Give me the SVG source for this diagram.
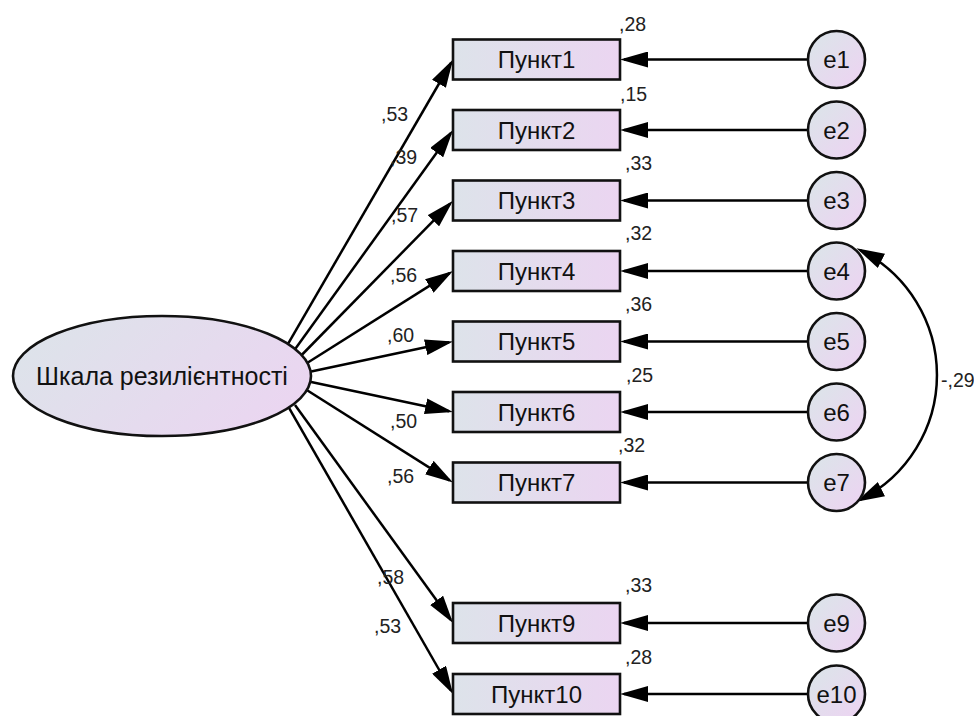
<svg xmlns="http://www.w3.org/2000/svg" width="974" height="716" viewBox="0 0 974 716">
<defs>
<linearGradient id="gBox" x1="0" y1="0" x2="1" y2="0">
<stop offset="0" stop-color="#dde3ea"/>
<stop offset="1" stop-color="#ebd5f1"/>
</linearGradient>
<linearGradient id="gEll" x1="0" y1="0.3" x2="1" y2="0.7">
<stop offset="0" stop-color="#dde3ea"/>
<stop offset="1" stop-color="#ebd5f1"/>
</linearGradient>
<linearGradient id="gCir" x1="0.15" y1="0.15" x2="0.85" y2="0.85">
<stop offset="0" stop-color="#dde3ea"/>
<stop offset="1" stop-color="#ebd5f1"/>
</linearGradient>
<marker id="ah" viewBox="0 0 28 16" refX="24" refY="8" markerWidth="28" markerHeight="16" markerUnits="userSpaceOnUse" orient="auto-start-reverse">
<path d="M0,0 L28,8 L0,16 Z" fill="#000"/>
</marker>
</defs>
<style>
.box{fill:url(#gBox);stroke:#111;stroke-width:2.6}
.cir{fill:url(#gCir);stroke:#111;stroke-width:2.6}
.ell{fill:url(#gEll);stroke:#111;stroke-width:2.6}
.lbl{font-family:"Liberation Sans",Arial,sans-serif;font-size:24px;fill:#111;text-anchor:middle}
.big{font-size:25px}
.num{font-family:"Liberation Sans",Arial,sans-serif;font-size:19.5px;fill:#222}
.c{stroke:#000;stroke-width:2.5;fill:none}
.a{marker-end:url(#ah)}
</style>

<g id="connectors">
<line class="c a" x1="288.3" y1="343.3" x2="451.0" y2="63.0"/>
<line class="c a" x1="295" y1="349.3" x2="450.7" y2="133.2"/>
<line class="c a" x1="301.7" y1="355" x2="450.2" y2="203.6"/>
<line class="c a" x1="306.7" y1="363.3" x2="449.6" y2="273.1"/>
<line class="c a" x1="310" y1="371.7" x2="449.1" y2="342.3"/>
<line class="c a" x1="310" y1="381.7" x2="449.1" y2="411.2"/>
<line class="c a" x1="306.7" y1="390" x2="449.6" y2="480.4"/>
<line class="c a" x1="295" y1="405" x2="450.7" y2="619.8"/>
<line class="c a" x1="288.3" y1="406.7" x2="451" y2="690.5"/>
<line class="c a" x1="808" y1="59.5" x2="624" y2="59.5"/>
<line class="c a" x1="808" y1="130" x2="624" y2="130"/>
<line class="c a" x1="808" y1="200.5" x2="624" y2="200.5"/>
<line class="c a" x1="808" y1="271" x2="624" y2="271"/>
<line class="c a" x1="808" y1="341.5" x2="624" y2="341.5"/>
<line class="c a" x1="808" y1="412" x2="624" y2="412"/>
<line class="c a" x1="808" y1="482.5" x2="624" y2="482.5"/>
<line class="c a" x1="808" y1="623" x2="624" y2="623"/>
<line class="c a" x1="808" y1="694" x2="624" y2="694"/>
<path class="c" d="M 860 250 A 140 140 0 0 1 860 500" marker-start="url(#ah)" marker-end="url(#ah)"/>
<text class="num" x="941" y="387">-,29</text>
<text class="num" x="381" y="121">,53</text>
<text class="num" x="390" y="164">,39</text>
<text class="num" x="391" y="222">,57</text>
<text class="num" x="390" y="282">,56</text>
<text class="num" x="387" y="342">,60</text>
<text class="num" x="390" y="428">,50</text>
<text class="num" x="387" y="483">,56</text>
<text class="num" x="377" y="584">,58</text>
<text class="num" x="374" y="633">,53</text>
</g>

<g id="latent">
<ellipse class="ell" cx="162" cy="376" rx="149" ry="60"/>
<text class="lbl big" x="162" y="385">Шкала резилієнтності</text>
</g>

<g id="item1"><rect class="box" x="453" y="39.5" width="167" height="40"/><text class="lbl" x="536.5" y="68">Пункт1</text><text class="num" x="619" y="31">,28</text></g>
<g id="item2"><rect class="box" x="453" y="110" width="167" height="40"/><text class="lbl" x="536.5" y="138.5">Пункт2</text><text class="num" x="620" y="101">,15</text></g>
<g id="item3"><rect class="box" x="453" y="180.5" width="167" height="40"/><text class="lbl" x="536.5" y="209">Пункт3</text><text class="num" x="625" y="170">,33</text></g>
<g id="item4"><rect class="box" x="453" y="251" width="167" height="40"/><text class="lbl" x="536.5" y="279.5">Пункт4</text><text class="num" x="625" y="240">,32</text></g>
<g id="item5"><rect class="box" x="453" y="321.5" width="167" height="40"/><text class="lbl" x="536.5" y="350">Пункт5</text><text class="num" x="625" y="311">,36</text></g>
<g id="item6"><rect class="box" x="453" y="392" width="167" height="40"/><text class="lbl" x="536.5" y="420.5">Пункт6</text><text class="num" x="626" y="382">,25</text></g>
<g id="item7"><rect class="box" x="453" y="462.5" width="167" height="40"/><text class="lbl" x="536.5" y="491">Пункт7</text><text class="num" x="618" y="452">,32</text></g>
<g id="item9"><rect class="box" x="453" y="603" width="167" height="40"/><text class="lbl" x="536.5" y="631.5">Пункт9</text><text class="num" x="625" y="592">,33</text></g>
<g id="item10"><rect class="box" x="453" y="674" width="167" height="40"/><text class="lbl" x="536.5" y="702.5">Пункт10</text><text class="num" x="625" y="664">,28</text></g>

<g id="e1"><circle class="cir" cx="836.5" cy="59.5" r="28.5"/><text class="lbl" x="836.5" y="68">e1</text></g>
<g id="e2"><circle class="cir" cx="836.5" cy="130" r="28.5"/><text class="lbl" x="836.5" y="138.5">e2</text></g>
<g id="e3"><circle class="cir" cx="836.5" cy="200.5" r="28.5"/><text class="lbl" x="836.5" y="209">e3</text></g>
<g id="e4"><circle class="cir" cx="836.5" cy="271" r="28.5"/><text class="lbl" x="836.5" y="279.5">e4</text></g>
<g id="e5"><circle class="cir" cx="836.5" cy="341.5" r="28.5"/><text class="lbl" x="836.5" y="350">e5</text></g>
<g id="e6"><circle class="cir" cx="836.5" cy="412" r="28.5"/><text class="lbl" x="836.5" y="420.5">e6</text></g>
<g id="e7"><circle class="cir" cx="836.5" cy="482.5" r="28.5"/><text class="lbl" x="836.5" y="491">e7</text></g>
<g id="e9"><circle class="cir" cx="836.5" cy="623" r="28.5"/><text class="lbl" x="836.5" y="631.5">e9</text></g>
<g id="e10"><circle class="cir" cx="836.5" cy="694" r="28.5"/><text class="lbl" x="836.5" y="702.5">e10</text></g>
</svg>
